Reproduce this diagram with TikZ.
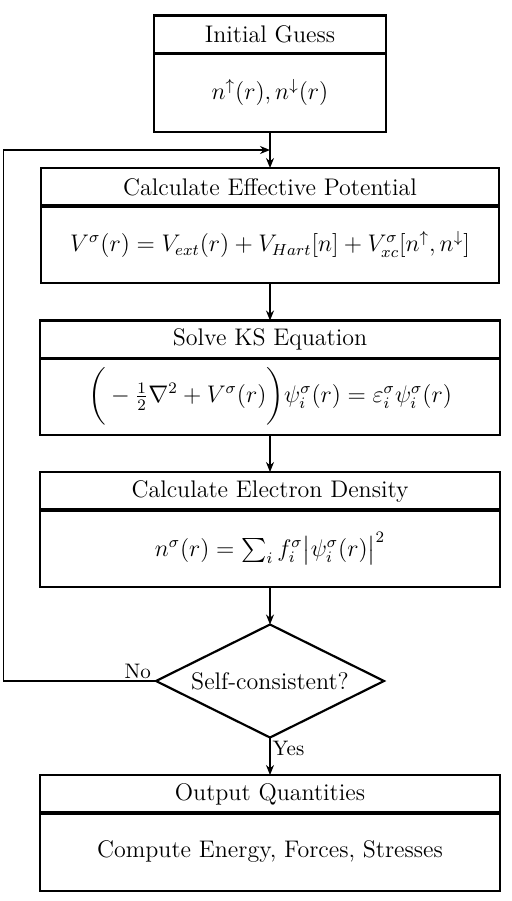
\documentclass[tikz,border=0pt]{standalone}
\usepackage{amsmath}
\usetikzlibrary{shapes.geometric,arrows.meta}
\begin{document}
\begin{tikzpicture}[x=0.5pt,y=-0.5pt,
  hdr/.style={draw,line width=1.1pt,rectangle,inner sep=0pt,outer sep=0pt,minimum width=#1,minimum height=19pt,font=\fontsize{12}{14}\selectfont},
  bdy/.style={draw,line width=1.1pt,rectangle,inner sep=0pt,outer sep=0pt,minimum width=#1,minimum height=38.5pt,font=\fontsize{12}{14}\selectfont},
  sep/.style={line width=1.8pt},
  conn/.style={line width=0.7pt,-{Stealth[length=5pt,width=4pt]}},
  lbl/.style={font=\fontsize{10.5}{12}\selectfont,inner sep=1pt}]
\useasboundingbox (0,0) rectangle (511,901);
% Initial Guess
\node[hdr=116pt] (ih) at (270,34.5) {Initial Guess};
\node[bdy=116pt,minimum height=39.5pt] (ib) at (270,92.5) {$n^{\uparrow}(r), n^{\downarrow}(r)$};
\draw[sep] (ih.south west) -- (ih.south east);
% Effective potential
\node[hdr=229pt] (eh) at (270,187) {Calculate Effective Potential};
\node[bdy=229pt] (eb) at (270,244.5) {$V^{\sigma}(r) = V_{ext}(r) + V_{Hart}[n] + V^{\sigma}_{xc}[n^{\uparrow}, n^{\downarrow}]$};
\draw[sep] (eh.south west) -- (eh.south east);
% KS
\node[hdr=230pt] (kh) at (270,339.5) {Solve KS Equation};
\node[bdy=230pt] (kb) at (270,396.5) {$\bigg(-\tfrac{1}{2}\nabla^2 + V^{\sigma}(r)\bigg)\psi^{\sigma}_i(r) = \varepsilon^{\sigma}_i\psi^{\sigma}_i(r)$};
\draw[sep] (kh.south west) -- (kh.south east);
% Density
\node[hdr=230pt] (dh) at (270,491) {Calculate Electron Density};
\node[bdy=230pt] (db) at (270,548.5) {$n^{\sigma}(r) = \sum_i f^{\sigma}_i \big|\psi^{\sigma}_i(r)\big|^2$};
\draw[sep] (dh.south west) -- (dh.south east);
% Decision
\node[draw,diamond,aspect=2,line width=1.1pt,inner sep=0pt,outer sep=0pt,minimum width=114pt,minimum height=56.5pt,font=\fontsize{12}{14}\selectfont] (sc) at (270,681) {Self-consistent?};
% Output
\node[hdr=230pt] (oh) at (270,794) {Output Quantities};
\node[bdy=230pt,minimum height=39pt] (ob) at (270,852) {Compute Energy, Forces, Stresses};
\draw[sep] (oh.south west) -- (oh.south east);
% connectors
\draw[conn] (ib.south) -- (eh.north);
\draw[conn] (eb.south) -- (kh.north);
\draw[conn] (kb.south) -- (dh.north);
\draw[conn] (db.south) -- (sc.north);
\draw[conn] (sc.south) -- node[lbl,anchor=west,pos=0.3] {Yes} (oh.north);
\coordinate (lb) at (3.5,681);
\coordinate (lt) at (3.5,150);
\coordinate (lj) at (270,150);
\draw[conn] (sc.west) -- node[lbl,anchor=south,pos=0.12] {No} (lb) -- (lt) -- (lj);
\end{tikzpicture}
\end{document}
